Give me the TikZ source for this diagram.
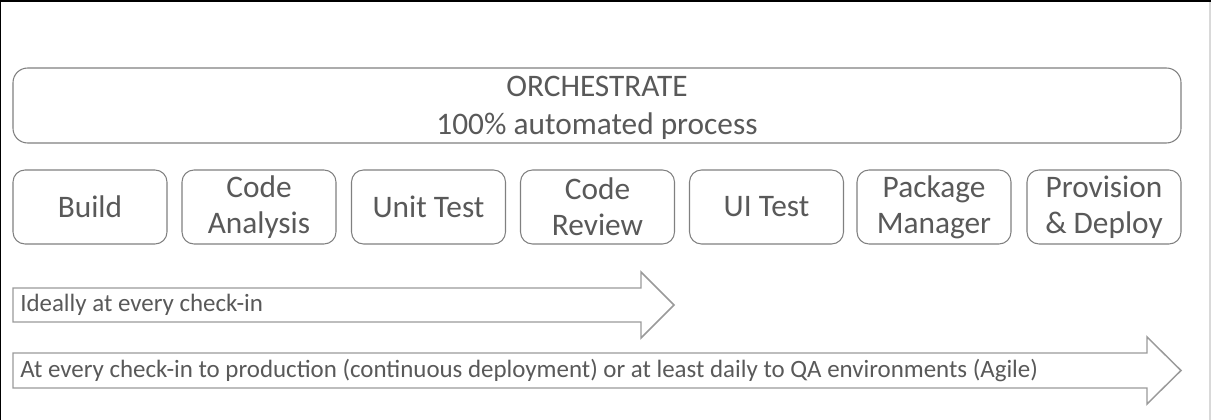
\documentclass[tikz,border=0pt]{standalone}
\usepackage{fontspec}
\setmainfont{Carlito}
\definecolor{txt}{HTML}{595959}
\definecolor{edge}{HTML}{808080}
\definecolor{arrowedge}{HTML}{9A9A9A}
\tikzset{
  stage/.style={draw=edge, line width=0.8pt, rounded corners=9pt,
    minimum width=154*0.75pt, minimum height=74*0.75pt, inner sep=0pt,
    align=center, text=txt, font=\fontsize{23.5}{27}\selectfont},
  banner/.style={draw=edge, line width=0.8pt, rounded corners=11pt,
    minimum width=1168*0.75pt, minimum height=75*0.75pt, inner sep=0pt},
  bannertext/.style={inner sep=0pt, align=center, text=txt,
    font=\fontsize{23.5}{27}\selectfont},
  flow/.style={draw=arrowedge, line width=1.1pt, fill=white},
  flowlabel/.style={anchor=west, inner sep=0pt, text=txt,
    font=\fontsize{18.7}{22}\selectfont},
}
\begin{document}
\begin{tikzpicture}[x=0.75pt, y=-0.75pt]
  \useasboundingbox (0,0) rectangle (1211,420);
  \fill[white] (0,0) rectangle (1211,420);
  % frame edges
  \draw[black, line width=2pt] (0,420) -- (0,1) -- (1211,1);
  \draw[gray!30, line width=0.8pt] (1210,2) -- (1210,420);

  % top banner
  \node[banner] (orch) at (597,105.5) {};
  \node[bannertext] (orchlabel) at ([yshift=-2pt]orch.center)
    {ORCHESTRATE\\[1.5pt]100\% automated process};

  % pipeline stages
  \node[stage] (build)   at (90,207)   {Build};
  \node[stage] (analyse) at (259,207)  {Code\\Analysis};
  \node[stage] (unit)    at (428.5,207) {Unit Test};
  \node[stage] (review)  at (597.5,207) {Code\\Review};
  \node[stage] (ui)      at (766.5,207) {UI Test};
  \node[stage] (pkg)     at (934,207)  {Package\\Manager};
  \node[stage] (deploy)  at (1104,207) {Provision\\\& Deploy};

  % frequency arrows
  \draw[flow] (13,288) -- (641,288) -- (641,272) -- (674,305)
    -- (641,338) -- (641,322) -- (13,322) -- cycle;
  \node[flowlabel] (daily) at (20,305) {Ideally at every check-in};

  \draw[flow] (13,353) -- (1147,353) -- (1147,337) -- (1181,370.5)
    -- (1147,404) -- (1147,388) -- (13,388) -- cycle;
  \node[flowlabel] (prod) at (20,370.5) {At every check-in to production (continuous deployment) or at least daily to QA environments (Agile)};
\end{tikzpicture}
\end{document}
